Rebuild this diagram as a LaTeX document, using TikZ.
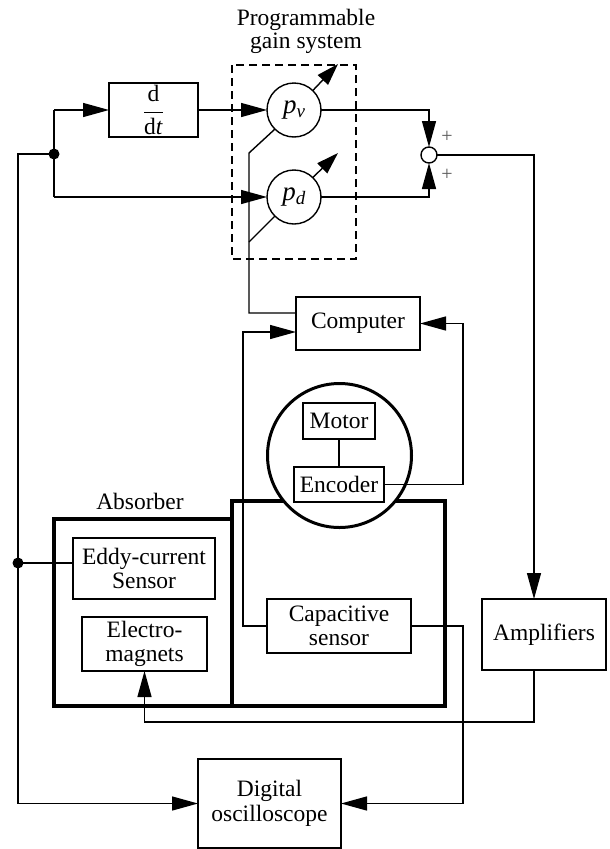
\documentclass[tikz,border=0pt]{standalone}
\usepackage{fontspec}
\setmainfont{Liberation Serif}
\usetikzlibrary{arrows.meta,calc}
\begin{document}
\begin{tikzpicture}[x=1pt,y=-1pt,
  every node/.style={font=\fontsize{23.5}{24.5}\selectfont, inner sep=0pt, outer sep=0pt},
  ln/.style={line width=1.4pt},
  box/.style={draw,line width=1.4pt,rectangle,align=center},
  circ/.style={draw,line width=1.4pt,circle},
  arr/.style={ln,-{Triangle[length=26pt,width=14pt]}},
  varr/.style={ln,-{Triangle[length=22pt,width=14pt]}},
  thickbox/.style={line width=3.5pt},
  dotnode/.style={fill,circle,minimum size=11pt},
  plus/.style={text=black!65,font=\fontsize{20}{20}\selectfont}
]
\useasboundingbox (0,0) rectangle (610,849);

% titles
\node (t1) at (306,20) {Programmable};
\node (t2) at (306,43) {gain system};
\node (abs) at (140,501) {Absorber};

% dashed programmable gain box
\draw[line width=1.6pt,dash pattern=on 8pt off 5pt] (232,65) rectangle (356,259);

% blocks
\node[box,minimum width=89pt,minimum height=54pt] (ddt) at (153.5,110) {$\displaystyle\frac{\mbox{d}}{\mbox{d\textit{t}}}$};
\node[circ,minimum size=54pt] (pv) at (294,110) {{\fontsize{27}{27}\selectfont\textit{p}}\raisebox{-4pt}{\fontsize{19}{19}\selectfont\textit{v}}};
\node[circ,minimum size=54pt] (pd) at (294,197) {{\fontsize{27}{27}\selectfont\textit{p}}\raisebox{-4pt}{\fontsize{19}{19}\selectfont\textit{d}}};
\node[circ,minimum size=16pt] (sum) at (429,155) {};
\node[plus] (plus1) at (447,137) {+};
\node[plus] (plus2) at (447,175) {+};

\node[box,minimum width=124pt,minimum height=53pt] (comp) at (358,323.5) {Computer};
\node[box,minimum width=124pt,minimum height=71pt] (amp) at (544,634.5) {Amplifiers};
\node[box,minimum width=143pt,minimum height=89pt] (osc) at (269.5,803.5) {Digital\\oscilloscope};

% absorber
\draw[thickbox] (232,519) -- (54,519) -- (54,706) -- (445,706) -- (445,501) -- (232,501) -- (232,706);
\node[box,minimum width=142pt,minimum height=61pt] (eddy) at (144,568.5) {Eddy-current\\Sensor};
\node[box,minimum width=125pt,minimum height=54pt] (elec) at (144.5,644) {Electro-\\magnets};
\node[box,minimum width=144pt,minimum height=54pt] (cap) at (339,626) {Capacitive\\sensor};

% motor / encoder
\node[draw,circle,line width=3pt,fill=white,minimum size=144pt] (mc) at (339.5,455.5) {};
\node[box,minimum width=72pt,minimum height=36pt] (motor) at (339,421) {Motor};
\node[box,minimum width=90pt,minimum height=35pt] (enc) at (339,484.5) {Encoder};
\draw[ln] (motor.south) -- (enc.north);

% coordinates
\coordinate (tl) at (54,110);
\coordinate (bl) at (54,197);
\coordinate (j1) at (54,154);
\coordinate (lc) at (18,154);
\coordinate (j2) at (18,563);
\coordinate (ax) at (534,0);
\coordinate (fb) at (534,722);
\coordinate (g1) at (249,153);
\coordinate (g2) at (249,242);
\coordinate (g3) at (249,313);
\coordinate (c1) at (243,332);
\coordinate (e1) at (463,323.5);
\coordinate (o1) at (463,803.5);
\coordinate (vt1) at (338,64);
\coordinate (vt2) at (338,153);

% input branches
\draw[ln] (bl) -- (tl);
\draw[arr] (tl) -- (ddt.west);
\draw[arr] (bl) -- (pd.west);
\draw[arr] (ddt.east) -- (pv.west);
\draw[arr] (j1) -- (lc) |- (osc.west);
\draw[ln] (j2) -- (eddy.west |- j2);
\node[dotnode] (d1) at (j1) {};
\node[dotnode] (d2) at (j2) {};

% summation
\draw[arr] (pv.east) -| (sum.north);
\draw[arr] (pd.east) -| (sum.south);
\draw[arr] (sum.east) -| (amp.north -| ax);
\draw[arr] (amp.south -| ax) -- (fb) -| (elec.south);

% variable gain arrows
\draw[varr] (pv.46) -- (vt1);
\draw[varr] (pd.46) -- (vt2);

% gain control lines from computer
\draw[ln] (pv.225) -- (g1) -- (g3) -- (comp.west |- g3);
\draw[ln] (pd.225) -- (g2);

% capacitive sensor to computer
\draw[arr] (cap.west) -| (c1) -- (comp.west |- c1);
% encoder to computer
\draw[arr] (enc.east) -| (e1) -- (comp.east);
% capacitive to oscilloscope
\draw[arr] (cap.east) -| (o1) -- (osc.east);
\end{tikzpicture}
\end{document}
